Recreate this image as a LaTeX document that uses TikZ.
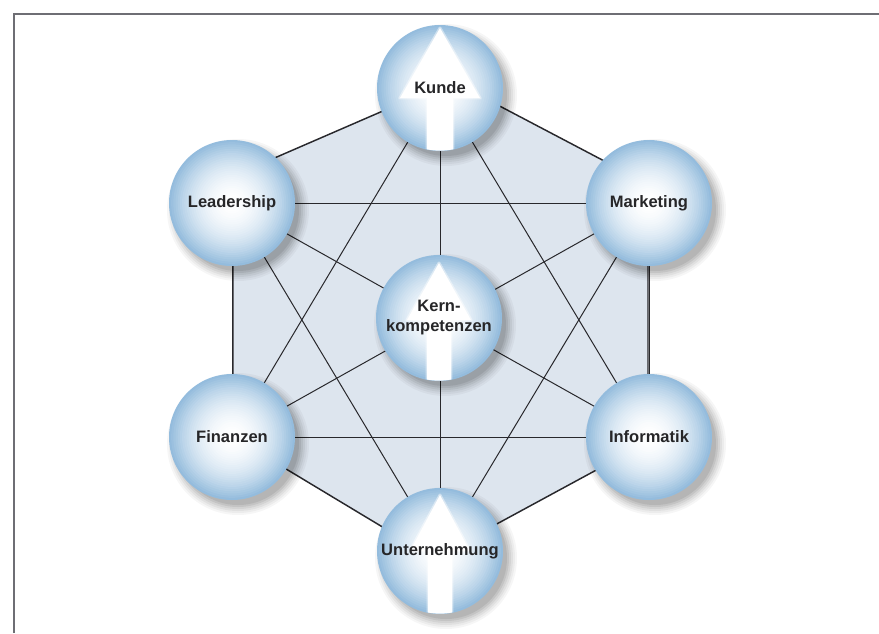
\documentclass[tikz,border=0pt]{standalone}
\usepackage{fontspec}
\setmainfont{Liberation Sans}
\usetikzlibrary{backgrounds}
\definecolor{hexfill}{RGB}{221,229,238}
\definecolor{balledge}{RGB}{148,188,221}
\definecolor{txtcol}{RGB}{38,38,40}
\definecolor{framecol}{RGB}{110,110,116}
\definecolor{linecol}{RGB}{40,40,44}
\newcommand\kzBall[1]{%
  \foreach \ii in {0,...,28}{
    \pgfmathsetmacro\ss{1-\ii/29}
    \pgfmathtruncatemacro\pp{100*(1-\ss*\ss)}
    \fill[white!\pp!balledge] (#1.center) circle[radius=\ss*47.25pt];}}
\newcommand\kzArrow[5]{% node, tip, base, head half width, shaft half width
  \begin{scope}[shift={(#1.center)}]
    \clip (0,0) circle[radius=47pt];
    \path[fill=white, draw=white, draw opacity=0.45, line width=2.2pt, line join=round]
      (0,#2) -- (#4,#3) -- (#5,#3) -- (#5,80) -- (-#5,80) -- (-#5,#3) -- (-#4,#3) -- cycle;
  \end{scope}}
\newcommand\kzShadow[1]{%
  \foreach \rr/\oo in {71/0.035,69/0.04,67/0.05,65/0.06,63/0.07,61/0.08}{
    \fill[black, opacity=\oo] ([shift={(6,7)}]#1.center) circle[radius=\rr*0.75pt];}}
\tikzset{
  ball/.style={circle, minimum size=94.5pt, inner sep=0pt},
  balltext/.style={font=\bfseries\fontsize{12.4}{15}\selectfont, text=txtcol, align=center, inner sep=0pt},
  hexedge/.style={draw=linecol, line width=1.1pt, fill=hexfill, line join=miter},
  link/.style={draw=linecol, line width=0.75pt},
  framestyle/.style={draw=framecol, line width=1.6pt}
}
\begin{document}
\begin{tikzpicture}[x=0.75pt,y=-0.75pt]
\useasboundingbox (0,0) rectangle (879,633);
\draw[framestyle] (14,633) -- (14,14) -- (879,14);

\node[ball] (kunde) at (440,88) {};
\node[ball] (leadership) at (232,203) {};
\node[ball] (marketing) at (649,203) {};
\node[ball] (kern) at (439,318) {};
\node[ball] (finanzen) at (232,437) {};
\node[ball] (informatik) at (649,437) {};
\node[ball] (unternehmung) at (440,551) {};

\kzBall{kunde}
\kzBall{leadership}
\kzBall{marketing}
\kzBall{kern}
\kzBall{finanzen}
\kzBall{informatik}
\kzBall{unternehmung}

\kzArrow{kunde}{-60}{10}{40}{13}
\kzArrow{kern}{-55}{2}{32}{12}
\kzArrow{unternehmung}{-56}{0}{30}{12}

\node[balltext] (tkunde) at (kunde) {Kunde};
\node[balltext] (tleadership) at (leadership) {Leadership};
\node[balltext] (tmarketing) at (marketing) {Marketing};
\node[balltext] (tkern) at (kern) {Kern-\\kompetenzen};
\node[balltext] (tfinanzen) at (finanzen) {Finanzen};
\node[balltext] (tinformatik) at (informatik) {Informatik};
\node[balltext] (tunternehmung) at (unternehmung) {Unternehmung};

\begin{scope}[on background layer]
  \coordinate (hT) at (452,81);
  \coordinate (hUR) at (648,184);
  \coordinate (hLR) at (648,442);
  \coordinate (hB) at (434,558);
  \coordinate (hLL) at (233,437);
  \coordinate (hUL) at (233,176);
  \path[hexedge] (hT) -- (hUR) -- (hLR) -- (hB) -- (hLL) -- (hUL) -- cycle;
  \draw[link] (kunde.center) -- (unternehmung.center);
  \draw[link] (leadership.center) -- (informatik.center);
  \draw[link] (marketing.center) -- (finanzen.center);
  \draw[link] (leadership.center) -- (marketing.center);
  \draw[link] (finanzen.center) -- (informatik.center);
  \draw[link] (leadership.center) -- (finanzen.center);
  \draw[link] (marketing.center) -- (informatik.center);
  \draw[link] (kunde.center) -- (finanzen.center);
  \draw[link] (kunde.center) -- (informatik.center);
  \draw[link] (leadership.center) -- (unternehmung.center);
  \draw[link] (marketing.center) -- (unternehmung.center);
  \kzShadow{kunde}
  \kzShadow{leadership}
  \kzShadow{marketing}
  \kzShadow{kern}
  \kzShadow{finanzen}
  \kzShadow{informatik}
  \kzShadow{unternehmung}
\end{scope}
\end{tikzpicture}
\end{document}
